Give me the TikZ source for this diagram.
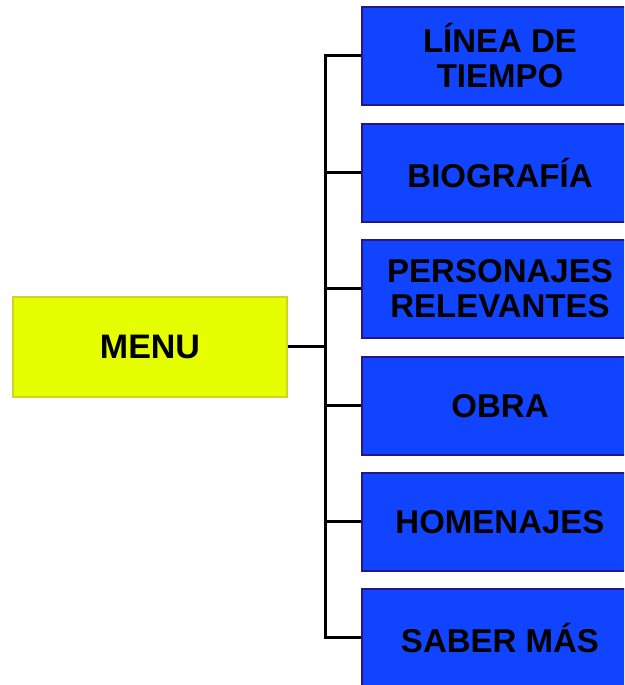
\documentclass[tikz,border=0pt]{standalone}
\usepackage{fontspec}
\setmainfont{Liberation Sans}
\definecolor{boxblue}{RGB}{17,68,255}
\definecolor{boxblueline}{RGB}{42,20,140}
\definecolor{menuyellow}{RGB}{230,255,0}
\definecolor{menuline}{RGB}{210,210,40}
\begin{document}
\begin{tikzpicture}[x=1pt,y=1pt,
  item/.style={draw=boxblueline, fill=boxblue, line width=2pt, minimum width=276pt, minimum height=98pt,
    inner sep=0pt, align=center, font=\fontsize{33}{35}\selectfont\bfseries, text=black},
  menubox/.style={draw=menuline, fill=menuyellow, line width=2pt, minimum width=274pt, minimum height=100pt,
    inner sep=0pt, align=center, font=\fontsize{34}{36}\selectfont\bfseries, text=black},
  link/.style={draw=black, line width=3pt}]
\useasboundingbox (0,0) rectangle (624,685);
\clip (0,0) rectangle (624,685);
\node[menubox] (menu) at (150,338) {MENU};
\node[item] (b1) at (500,629) {LÍNEA DE\\TIEMPO};
\node[item] (b2) at (500,512) {BIOGRAFÍA};
\node[item] (b3) at (500,396) {PERSONAJES\\RELEVANTES};
\node[item] (b4) at (500,279) {OBRA};
\node[item] (b5) at (500,163) {HOMENAJES};
\node[item] (b6) at (500,47) {SABER MÁS};
\coordinate (trunk) at (325,338);
\draw[link] (menu.east) -- (trunk);
\draw[link] (b1.west) -| (trunk) |- (b6.west);
\foreach \b in {b2,b3,b4,b5} \draw[link] (\b.west) -- (\b.west -| trunk);
\end{tikzpicture}
\end{document}
